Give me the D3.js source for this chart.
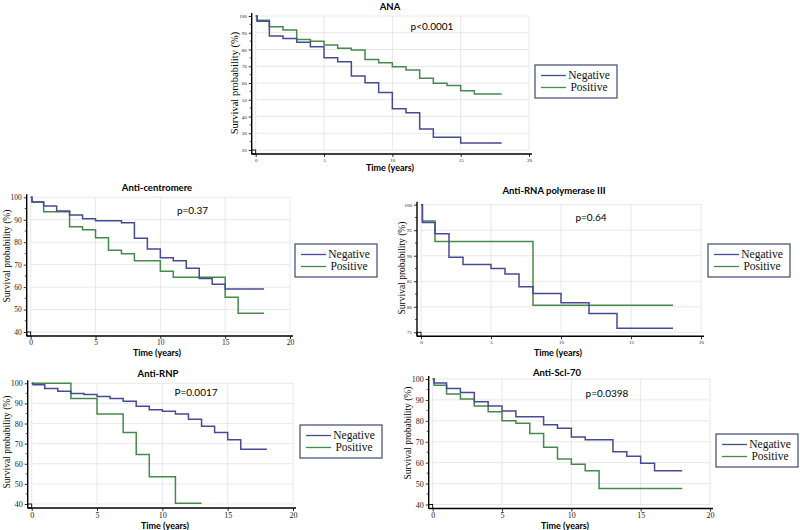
<!DOCTYPE html>
<html>
<head>
<meta charset="utf-8">
<style>
  body { margin: 0; background: #fff; }
  svg { display: block; }
</style>
<script src="https://cdn.jsdelivr.net/npm/d3@7"></script>
</head>
<body>
<svg id="chart" width="800" height="530"></svg>
<script>
// ---- data: [time (years), survival %], step after ----
const anaNeg = [[0,100],[0.1,96.8],[1,88],[2,86.5],[3,84.3],[4,81.7],[5,75.1],[6,72.7],[7,64.2],[8,60.2],[9,54.4],[10,44.7],[11,42.3],[12,32.5],[13,27.6],[15,24.2],[18,24.2]]
const anaPos = [[0,100],[0.1,97.4],[1,93.6],[2,91.6],[3,86],[4,85],[5,82.7],[6,80.7],[7,79.7],[8,74.1],[9,72.1],[10,69.7],[11,67.7],[12,62.8],[13,59.9],[14,58.5],[15,55.4],[16,53.4],[18,53.4]]

const centNeg = [[0,100],[0.1,97.9],[1,96.1],[2,93.9],[3,92.1],[4,90.4],[5,89.5],[7,88.7],[8,81.8],[9,77],[10,73.1],[11,71.7],[12,68.4],[13,63.8],[14,61.3],[15,59.2],[18,59.2]]
const centPos = [[0,100],[0.1,97.9],[1,93.6],[3,86.9],[4,85.5],[5,82],[6,76.4],[7,74.9],[8,71.7],[10,67.1],[11,64.4],[15,55.5],[16,48.4],[18,48.4]]

const rnaNeg = [[0,100],[0.1,96.5],[1,94.3],[2,89.7],[3,88.3],[5,87.5],[6,86.4],[7,83.9],[8,82.6],[10,80.8],[12,78.7],[14,75.8],[18,75.8]]
const rnaPos = [[0,100],[0.1,96.8],[1,92.8],[8,80.3],[18,80.3]]

const rnpNeg = [[0,100],[0.1,99.3],[1,97.4],[2,96],[3,94.9],[4,94.4],[5,93.5],[6,92.4],[7,91.1],[8,88.6],[9,86.8],[10,86.1],[11,84.8],[12,82.1],[13,78.6],[14,75.5],[15,72],[16,67.2],[18,67.2]]
const rnpPos = [[0,100],[3,92.4],[5,84.8],[7,75.5],[8,64.6],[9,53.6],[11,40.4],[13,40.4]]

const sclNeg = [[0,100],[0.1,98.1],[1,95.4],[2,93.5],[3,89.1],[4,87.1],[5,84.7],[6,82],[8,78.1],[9,76.5],[10,72.3],[11,71],[13,65.2],[14,63.1],[15,59.7],[16,56.1],[18,56.1]]
const sclPos = [[0,100],[0.1,97],[1,92.8],[2,90.4],[3,87.1],[4,84.4],[5,80],[6,78.9],[7,73.9],[8,67.4],[9,61.7],[10,59.2],[11,56.1],[12,47.6],[18,47.6]]

const titles = ["ANA", "Anti-centromere", "Anti-RNA polymerase III", "Anti-RNP", "Anti-Scl-70"]
const pValues = ["p<0.0001", "p=0.37", "p=0.64", "P=0.0017", "p=0.0398"]
const seriesNames = ["Negative", "Positive"]
const xTicks = [0, 5, 10, 15, 20]
const yTicksA = [20, 30, 40, 50, 60, 70, 80, 90, 100]
const yTicksB = [40, 50, 60, 70, 80, 90, 100]
const yTicksC = [75, 80, 85, 90, 95, 100]

const negColor = "#474a94"
const posColor = "#468a4a"
const sans = "Lato, 'Liberation Sans', sans-serif"
const serif = "'Liberation Serif', 'DejaVu Serif', serif"

const svg = d3.select("#chart")

// layout of each panel
const panels = [
  { neg: anaNeg, pos: anaPos, yTicks: yTicksA, minorStep: 5, x: [255.7, 529], y: [150, 16], tickFont: 5,
    title: [390, 10], p: [432, 30], legend: [535, 65], yLab: [234, 83], xLab: [390, 171] },
  { neg: centNeg, pos: centPos, yTicks: yTicksB, minorStep: 5, x: [30.7, 290], y: [332, 197.3], tickFont: 7.5,
    title: [157, 191], p: [192.5, 214], legend: [295, 244], yLab: [7, 256], xLab: [157, 356] },
  { neg: rnaNeg, pos: rnaPos, yTicks: yTicksC, minorStep: 2.5, x: [421, 701], y: [332.3, 204.7], tickFont: 5,
    title: [554, 194], p: [591, 221], legend: [708, 244], yLab: [402, 268], xLab: [558, 356] },
  { neg: rnpNeg, pos: rnpPos, yTicks: yTicksB, minorStep: 5, x: [31.7, 293], y: [504, 383.3], tickFont: 8,
    title: [158, 377], p: [196, 396], legend: [300, 425], yLab: [7, 442], xLab: [165, 529] },
  { neg: sclNeg, pos: sclPos, yTicks: yTicksB, minorStep: 5, x: [432.7, 710], y: [504.5, 379], tickFont: 8,
    title: [557, 376], p: [607, 397], legend: [716, 434], yLab: [408, 433], xLab: [565, 529] }
]

panels.forEach((cfg, i) => drawPanel(cfg, i))

function drawPanel(cfg, i) {
  let yMin = d3.min(cfg.yTicks), yMax = d3.max(cfg.yTicks)
  let xScale = d3.scaleLinear().domain([0, 20]).range(cfg.x)
  let yScale = d3.scaleLinear().domain([yMin, yMax]).range(cfg.y)
  let off = 4
  let g = svg.append("g")

  // grid
  g.selectAll(".vg").data(xTicks).enter().append("line")
    .attr("x1", d => xScale(d)).attr("x2", d => xScale(d))
    .attr("y1", yScale(yMax)).attr("y2", yScale(yMin))
    .attr("stroke", "#e2e2e2").attr("stroke-width", 0.8)
  g.selectAll(".hg").data(cfg.yTicks).enter().append("line")
    .attr("x1", xScale(0)).attr("x2", xScale(20))
    .attr("y1", d => yScale(d)).attr("y2", d => yScale(d))
    .attr("stroke", "#e2e2e2").attr("stroke-width", 0.8)

  // axes
  let axisY = d3.axisLeft(yScale).tickValues(cfg.yTicks).tickSize(3).tickPadding(2)
  let yAx = g.append("g")
    .attr("transform", `translate(${xScale(0) - off},0)`)
    .call(axisY)
  let minor = d3.range(yMin + cfg.minorStep, yMax, cfg.minorStep).filter(v => !cfg.yTicks.includes(v))
  yAx.selectAll(".minor").data(minor).enter().append("line")
    .attr("x1", -2).attr("x2", 0)
    .attr("y1", d => yScale(d)).attr("y2", d => yScale(d))
    .attr("stroke", "#000").attr("stroke-width", 0.7)
  yAx.select(".domain").attr("d", `M0,${yScale(yMax) - 3}V${yScale(yMin) + off}`)

  let axisX = d3.axisBottom(xScale).tickValues(xTicks).tickSize(3).tickPadding(1)
  let xAx = g.append("g")
    .attr("transform", `translate(0,${yScale(yMin) + off})`)
    .call(axisX)
  xAx.select(".domain").attr("d", `M${xScale(0) - off},0H${xScale(20) + 3}`)

  g.selectAll(".tick text").attr("font-family", serif).attr("font-size", cfg.tickFont).attr("fill", "#222")
  g.selectAll(".domain").attr("stroke", "#000").attr("stroke-width", 1.4)
  g.selectAll(".tick line").attr("stroke", "#000").attr("stroke-width", 0.8)

  // little corner box
  g.append("rect")
    .attr("x", xScale(0) - off).attr("y", yScale(yMin))
    .attr("width", off).attr("height", off)
    .attr("fill", "none").attr("stroke", "#000").attr("stroke-width", 0.9)

  // survival curves
  let line = d3.line()
    .x(d => xScale(d[0]))
    .y(d => yScale(d[1]))
    .curve(d3.curveStepAfter)
  g.append("path").datum(cfg.pos).attr("d", line)
    .attr("fill", "none").attr("stroke", posColor).attr("stroke-width", 1.5)
  g.append("path").datum(cfg.neg).attr("d", line)
    .attr("fill", "none").attr("stroke", negColor).attr("stroke-width", 1.5)

  // texts
  g.append("text").attr("x", cfg.title[0]).attr("y", cfg.title[1])
    .attr("text-anchor", "middle").attr("font-family", sans).attr("font-weight", "bold")
    .attr("font-size", 9.5).text(titles[i])
  g.append("text").attr("x", cfg.p[0]).attr("y", cfg.p[1])
    .attr("text-anchor", "middle").attr("font-family", sans)
    .attr("font-size", 10).text(pValues[i])
  g.append("text").attr("x", cfg.xLab[0]).attr("y", cfg.xLab[1])
    .attr("text-anchor", "middle").attr("font-family", sans).attr("font-weight", "bold")
    .attr("font-size", 9).text("Time (years)")
  g.append("text")
    .attr("transform", `translate(${cfg.yLab[0]},${cfg.yLab[1]}) rotate(-90)`)
    .attr("text-anchor", "middle").attr("dy", "0.35em").attr("font-family", serif)
    .attr("font-size", i == 0 ? 10.5 : 9.5).text("Survival probability (%)")

  // legend
  let [lx, ly] = cfg.legend
  let leg = g.append("g").attr("transform", `translate(${lx},${ly})`)
  leg.append("rect").attr("width", 82).attr("height", 33)
    .attr("fill", "#fff").attr("stroke", "#3b4a6e").attr("stroke-width", 1.2)
  let items = [{ name: seriesNames[0], color: negColor, y: 10.5 }, { name: seriesNames[1], color: posColor, y: 22.5 }]
  items.forEach(it => {
    leg.append("line").attr("x1", 6).attr("x2", 31).attr("y1", it.y).attr("y2", it.y)
      .attr("stroke", it.color).attr("stroke-width", 1.3)
    leg.append("text").attr("x", 54).attr("y", it.y + 3.5)
      .attr("text-anchor", "middle").attr("font-family", serif).attr("font-size", 11.5)
      .attr("fill", "#111").text(it.name)
  })
}
</script>
</body>
</html>
